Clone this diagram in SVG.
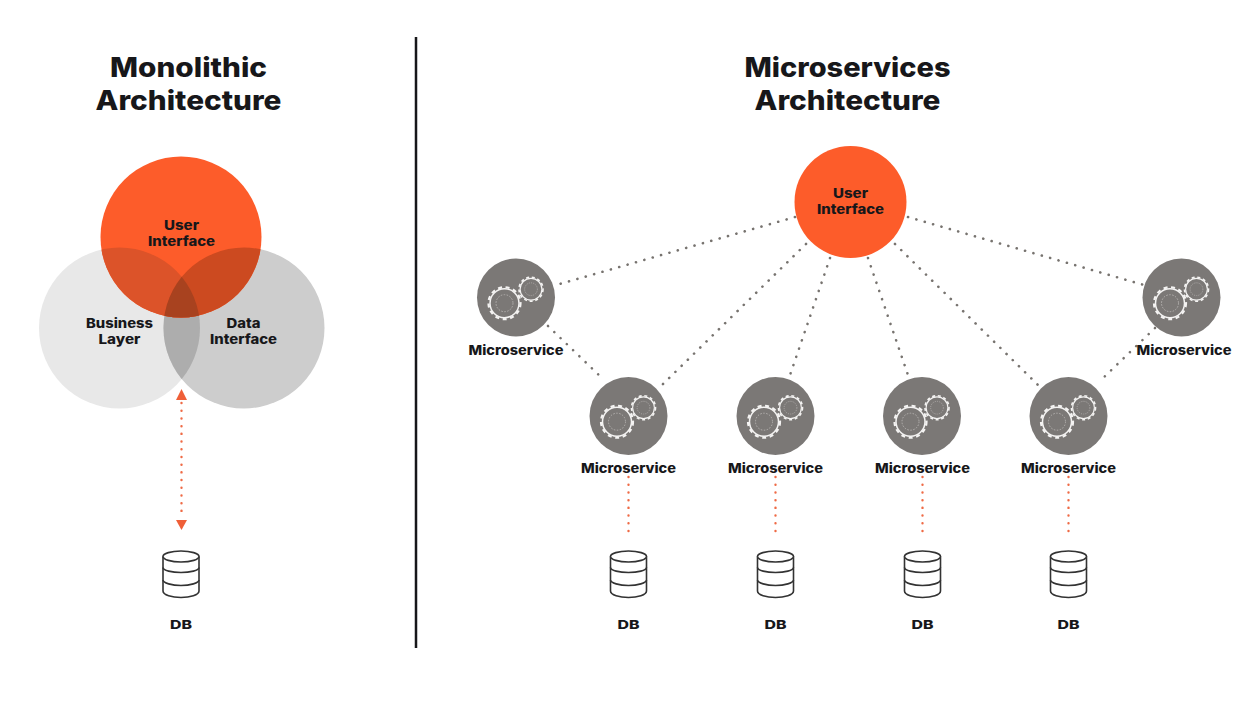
<svg xmlns="http://www.w3.org/2000/svg" xmlns:xlink="http://www.w3.org/1999/xlink" width="1246" height="716" viewBox="0 0 1246 716">
<style>
text{font-family:"Inter","Liberation Sans",sans-serif;font-weight:800;text-anchor:middle;fill:#17171a}
.t{font-size:27px}
.l{font-size:13px}
.m{font-size:13px}
.d{font-size:12px}
.grey{fill:#7b7876}
.gear{fill:none;stroke:#f4f3f2;stroke-width:1.5}
.teeth{fill:none;stroke:#f4f3f2;stroke-width:2.2;stroke-dasharray:4 3.6}
.in{fill:none;stroke:#b5b2b0;stroke-width:1;stroke-dasharray:1.5 1.5}
.dot{fill:none;stroke:#77736f;stroke-width:2.6;stroke-linecap:round;stroke-dasharray:.1 8.6}
.red{fill:none;stroke:#ef6a45;stroke-width:2.4;stroke-linecap:round;stroke-dasharray:.1 7.6}
.db{fill:#fff;stroke:#333;stroke-width:1.6}
.band{fill:none;stroke:#333;stroke-width:1.6}
</style>
<defs>
<clipPath id="cU"><circle cx="181" cy="237" r="80.500"/></clipPath>
<clipPath id="cL"><circle cx="119.500" cy="328" r="80.500"/></clipPath>
<g id="gear"><circle class="gear" r="14.500"/><circle class="teeth" r="16"/><circle class="in" r="8.500"/></g>
<g id="ms"><circle class="grey" r="39"/><use xlink:href="#gear" href="#gear" x="-11.500" y="5.700"/><use xlink:href="#gear" href="#gear" transform="translate(15 -8.300) scale(.75)"/></g>
<g id="dbi"><path class="db" d="M-18 -17.500V17C-18 21 -9 23.500 0 23.500S18 21 18 17V-17.500"/><ellipse class="db" cy="-17.500" rx="18" ry="5.500"/><path class="band" d="M-18 -6.500C-18 -3.500 -9 -1.500 0 -1.500S18 -3.500 18 -6.500M-18 6C-18 9 -9 11.500 0 11.500S18 9 18 6"/></g>
</defs>

<rect width="1246" height="716" fill="#fff"/>
<line id="divider" x1="416" y1="37" x2="416" y2="648" stroke="#17171a" stroke-width="2.500"/>

<g id="titles">
<text class="t" x="188.500" y="77" textLength="157" lengthAdjust="spacingAndGlyphs">Monolithic</text>
<text class="t" x="188.500" y="110" textLength="186" lengthAdjust="spacingAndGlyphs">Architecture</text>
<text class="t" x="847.500" y="77" textLength="206" lengthAdjust="spacingAndGlyphs">Microservices</text>
<text class="t" x="847.500" y="110" textLength="186" lengthAdjust="spacingAndGlyphs">Architecture</text>
</g>

<g id="connectors">
<path class="dot" d="M795 217L556 285"/>
<path class="dot" d="M806 244L662 385"/>
<path class="dot" d="M830 258L789 378"/>
<path class="dot" d="M868 258L909 378"/>
<path class="dot" d="M895 244L1038 385"/>
<path class="dot" d="M908 217L1144 285"/>
<path class="dot" d="M548 326L603 379"/>
<path class="dot" d="M1155 328L1100 381"/>
<path class="red" d="M628.500 477V531"/>
<path class="red" d="M775.500 477V531"/>
<path class="red" d="M922.500 477V531"/>
<path class="red" d="M1068.500 477V531"/>
<path class="red" d="M181.500 403V517"/>
<path d="M181.500 389L187 400H176Z" fill="#ef5f38"/>
<path d="M181.500 530L176 520H187Z" fill="#ef5f38"/>
</g>

<g id="mono-venn">
<circle id="mono-business" cx="119.500" cy="328" r="80.500" fill="#e8e8e8"/>
<circle id="mono-data" cx="244" cy="328" r="80.500" fill="#cdcdcd"/>
<circle cx="244" cy="328" r="80.500" fill="#adadad" clip-path="url(#cL)"/>
<circle id="mono-ui" cx="181" cy="237" r="80.500" fill="#fd5c2a"/>
<g clip-path="url(#cU)">
<circle cx="119.500" cy="328" r="80.500" fill="#dc5329"/>
<circle cx="244" cy="328" r="80.500" fill="#cc4a20"/>
<g clip-path="url(#cL)"><circle cx="244" cy="328" r="80.500" fill="#a8421f"/></g>
</g>
<text class="l" x="181.500" y="230" textLength="35" lengthAdjust="spacingAndGlyphs">User</text>
<text class="l" x="181.500" y="246" textLength="67" lengthAdjust="spacingAndGlyphs">Interface</text>
<text class="l" x="119.500" y="327.500" textLength="67" lengthAdjust="spacingAndGlyphs">Business</text>
<text class="l" x="119.500" y="344" textLength="42" lengthAdjust="spacingAndGlyphs">Layer</text>
<text class="l" x="243.500" y="327.500" textLength="34" lengthAdjust="spacingAndGlyphs">Data</text>
<text class="l" x="243.500" y="344" textLength="67" lengthAdjust="spacingAndGlyphs">Interface</text>
</g>

<g id="mono-db"><use xlink:href="#dbi" href="#dbi" x="181" y="574"/><text class="d" x="181" y="628.500" textLength="22" lengthAdjust="spacingAndGlyphs">DB</text></g>

<g id="ui"><circle cx="850.500" cy="202" r="56" fill="#fd5c2a"/><text class="l" x="850.500" y="197.500" textLength="35" lengthAdjust="spacingAndGlyphs">User</text><text class="l" x="850.500" y="213.500" textLength="67" lengthAdjust="spacingAndGlyphs">Interface</text></g>

<g id="ms1"><use xlink:href="#ms" href="#ms" x="516" y="297.500"/><text class="m" x="516" y="354.500" textLength="95" lengthAdjust="spacingAndGlyphs">Microservice</text></g>
<g id="ms2"><use xlink:href="#ms" href="#ms" x="628.500" y="416"/><text class="m" x="628.500" y="472.500" textLength="95" lengthAdjust="spacingAndGlyphs">Microservice</text></g>
<g id="ms3"><use xlink:href="#ms" href="#ms" x="775.500" y="416"/><text class="m" x="775.500" y="472.500" textLength="95" lengthAdjust="spacingAndGlyphs">Microservice</text></g>
<g id="ms4"><use xlink:href="#ms" href="#ms" x="922" y="416"/><text class="m" x="922.500" y="472.500" textLength="95" lengthAdjust="spacingAndGlyphs">Microservice</text></g>
<g id="ms5"><use xlink:href="#ms" href="#ms" x="1068.500" y="416"/><text class="m" x="1068.500" y="472.500" textLength="95" lengthAdjust="spacingAndGlyphs">Microservice</text></g>
<g id="ms6"><use xlink:href="#ms" href="#ms" x="1181.500" y="297.500"/><text class="m" x="1184" y="354.500" textLength="95" lengthAdjust="spacingAndGlyphs">Microservice</text></g>

<g id="db1"><use xlink:href="#dbi" href="#dbi" x="628.500" y="574"/><text class="d" x="628.500" y="628.500" textLength="22" lengthAdjust="spacingAndGlyphs">DB</text></g>
<g id="db2"><use xlink:href="#dbi" href="#dbi" x="775.500" y="574"/><text class="d" x="775.500" y="628.500" textLength="22" lengthAdjust="spacingAndGlyphs">DB</text></g>
<g id="db3"><use xlink:href="#dbi" href="#dbi" x="922.500" y="574"/><text class="d" x="922.500" y="628.500" textLength="22" lengthAdjust="spacingAndGlyphs">DB</text></g>
<g id="db4"><use xlink:href="#dbi" href="#dbi" x="1068.500" y="574"/><text class="d" x="1068.500" y="628.500" textLength="22" lengthAdjust="spacingAndGlyphs">DB</text></g>
</svg>
